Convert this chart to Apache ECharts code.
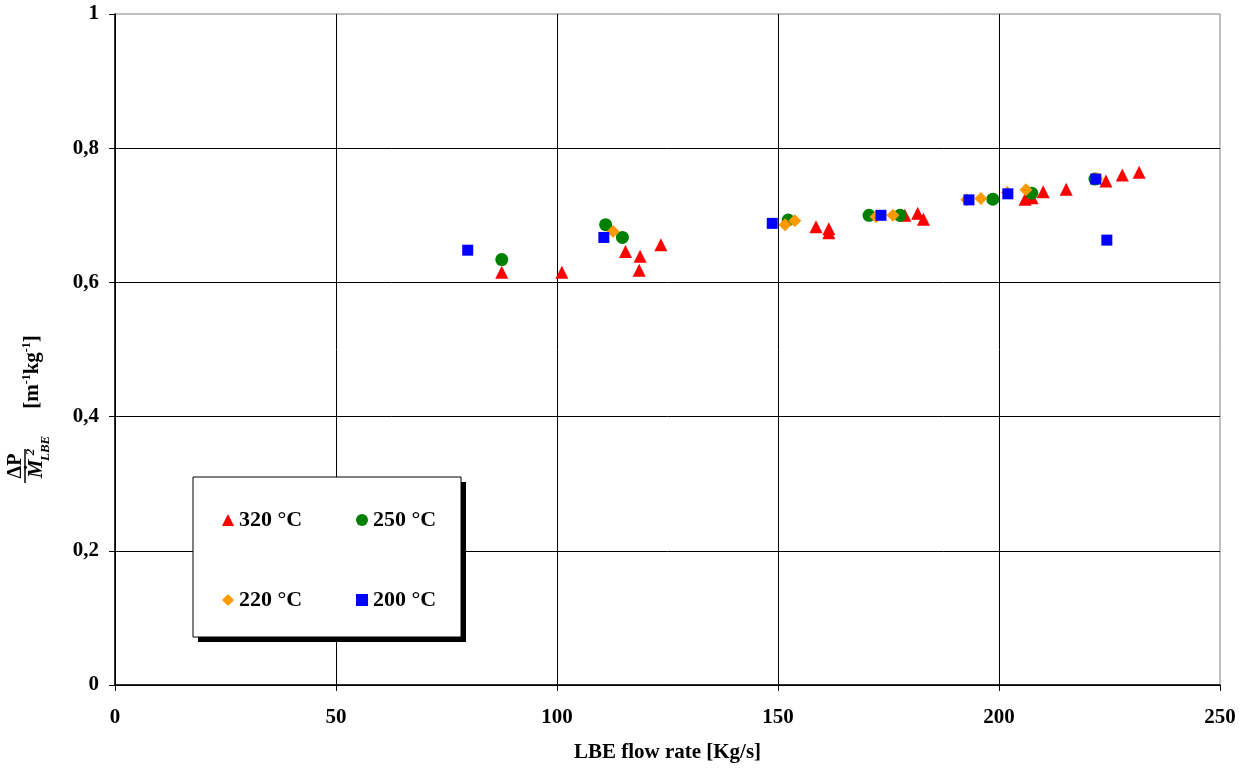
<!DOCTYPE html>
<html>
<head>
<meta charset="utf-8">
<script src="https://cdn.jsdelivr.net/npm/echarts@6/dist/echarts.min.js"></script>
<style>
  html, body { margin: 0; padding: 0; background: #fff; }
  #chart { width: 1247px; height: 769px; }
</style>
</head>
<body>
<div id="chart"></div>
<script>
// Flow rate [kg/s] and pressure-drop ratio for each LBE temperature
const series320 = '320 °C';
const flow320 = [87.5, 101.1, 115.5, 118.8, 118.6, 123.5, 158.6, 161.5, 161.5, 178.7, 181.6, 182.9, 205.9, 207.5, 210.0, 215.2, 224.2, 227.9, 231.7];
const ratio320 = [0.615, 0.615, 0.646, 0.639, 0.618, 0.656, 0.683, 0.680, 0.674, 0.700, 0.703, 0.694, 0.724, 0.726, 0.735, 0.739, 0.751, 0.760, 0.764];

const series250 = '250 °C';
const flow250 = [87.5, 111.0, 114.8, 152.3, 170.6, 177.6, 198.6, 207.4, 221.7];
const ratio250 = [0.634, 0.686, 0.667, 0.693, 0.700, 0.700, 0.724, 0.733, 0.754];

const series220 = '220 °C';
const flow220 = [112.7, 151.6, 153.8, 172.2, 176.0, 192.7, 195.9, 201.9, 206.1, 222.1];
const ratio220 = [0.676, 0.686, 0.692, 0.698, 0.700, 0.723, 0.725, 0.734, 0.738, 0.755];

const series200 = '200 °C';
const flow200 = [79.8, 110.6, 148.7, 173.3, 193.2, 202.0, 221.9, 224.4];
const ratio200 = [0.648, 0.667, 0.688, 0.700, 0.723, 0.732, 0.754, 0.663];

const xName = 'LBE flow rate [Kg/s]';

const FONT = '"Liberation Serif", "Times New Roman", serif';

function pairs(xs, ys) { return xs.map((x, i) => [x, ys[i]]); }

const chart = echarts.init(document.getElementById('chart'), null, { renderer: 'canvas' });

const labelStyle = { fontFamily: FONT, fontWeight: 'bold', fontSize: 21, color: '#000' };

function legendAt(name, left, top) {
  return {
    data: [name], left: left, top: top, padding: 0,
    itemWidth: 12, itemHeight: 12, selectedMode: false,
    textStyle: { fontFamily: FONT, fontWeight: 'bold', fontSize: 22, color: '#000' }
  };
}

const option = {
  backgroundColor: '#fff',
  animation: false,
  grid: { left: 115, right: 27, top: 14, bottom: 84, show: true, borderColor: '#808080', borderWidth: 1 },
  xAxis: {
    type: 'value', min: 0, max: 250, interval: 50,
    name: xName, nameLocation: 'middle', nameGap: 57,
    nameTextStyle: { fontFamily: FONT, fontWeight: 'bold', fontSize: 21, color: '#000' },
    axisLine: { onZero: false, lineStyle: { color: '#000', width: 1.5 } },
    axisTick: { show: true, length: 6, lineStyle: { color: '#000' } },
    axisLabel: Object.assign({ margin: 22 }, labelStyle),
    splitLine: { show: true, showMaxLine: false, lineStyle: { color: '#000', width: 1 } }
  },
  yAxis: {
    type: 'value', min: 0, max: 1, interval: 0.2,
    axisLine: { show: true, onZero: false, lineStyle: { color: '#000', width: 1.5 } },
    axisTick: { show: true, length: 6, lineStyle: { color: '#000' } },
    axisLabel: Object.assign({
      margin: 16,
      formatter: v => (Math.round(v * 10) / 10).toString().replace('.', ',')
    }, labelStyle),
    splitLine: { show: true, showMaxLine: false, lineStyle: { color: '#000', width: 1 } }
  },
  legend: [
    legendAt(series320, 222, 509),
    legendAt(series250, 356, 509),
    legendAt(series220, 222, 589),
    legendAt(series200, 356, 589)
  ],
  series: [
    { name: series320, type: 'scatter', symbol: 'triangle', symbolSize: 13,
      itemStyle: { color: '#ff0000', opacity: 1 }, data: pairs(flow320, ratio320) },
    { name: series250, type: 'scatter', symbol: 'circle', symbolSize: 13,
      itemStyle: { color: '#008000', opacity: 1 }, data: pairs(flow250, ratio250) },
    { name: series220, type: 'scatter', symbol: 'diamond', symbolSize: 13,
      itemStyle: { color: '#ff9900', opacity: 1 }, data: pairs(flow220, ratio220) },
    { name: series200, type: 'scatter', symbol: 'rect', symbolSize: 11,
      itemStyle: { color: '#0000ff', opacity: 1 }, data: pairs(flow200, ratio200) }
  ],
  graphic: [
    // legend frame with a solid drop shadow
    { type: 'rect', z: 3, shape: { x: 198, y: 482, width: 268, height: 160 }, style: { fill: '#000' } },
    { type: 'rect', z: 3, shape: { x: 193, y: 477, width: 268, height: 160 }, style: { fill: '#fff', stroke: '#000', lineWidth: 1 } },
    // y-axis title: ΔP / Ṁ²_LBE  [m-1 kg-1], written bottom to top
    {
      type: 'group', x: 25, y: 466, rotation: Math.PI / 2, children: [
        { type: 'text', x: 0, y: -9, style: { text: 'ΔP', font: 'bold 20px ' + FONT, fill: '#000', align: 'center', verticalAlign: 'middle' } },
        { type: 'line', shape: { x1: -17, y1: 0, x2: 17, y2: 0 }, style: { stroke: '#000', lineWidth: 1.5 } },
        { type: 'text', x: -3, y: 12, style: { text: 'Ṁ', font: 'italic bold 21px ' + FONT, fill: '#000', align: 'center', verticalAlign: 'middle' } },
        { type: 'text', x: 14, y: 6, style: { text: '2', font: 'italic bold 13px ' + FONT, fill: '#000', align: 'center', verticalAlign: 'middle' } },
        { type: 'text', x: 5, y: 21, style: { text: 'LBE', font: 'italic bold 13px ' + FONT, fill: '#000', align: 'left', verticalAlign: 'middle' } }
      ]
    },
    {
      type: 'text', x: 33, y: 372, rotation: Math.PI / 2,
      style: {
        text: '{b|[m}{s|-1}{b|kg}{s|-1}{b|]}',
        align: 'center', verticalAlign: 'middle',
        rich: {
          b: { fontFamily: FONT, fontWeight: 'bold', fontSize: 21, lineHeight: 24, color: '#000' },
          s: { fontFamily: FONT, fontWeight: 'bold', fontSize: 12, lineHeight: 12, verticalAlign: 'top', color: '#000' }
        }
      }
    }
  ]
};

chart.setOption(option);
</script>
</body>
</html>
